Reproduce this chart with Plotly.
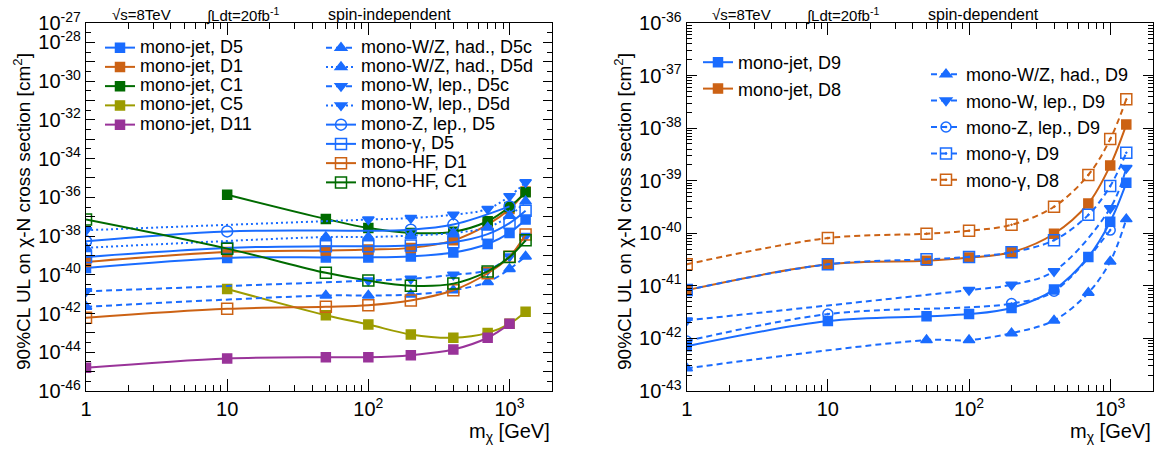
import plotly.graph_objects as go

# ---------------- data ----------------
mass_all = [1, 10, 50, 100, 200, 400, 700, 1000, 1300]
mass_no1 = [10, 50, 100, 200, 400, 700, 1000, 1300]
mass_d11 = [1, 10, 50, 100, 200, 400, 700, 1000]
mass_wzhad = [1, 50, 100, 200, 400, 700, 1000, 1300]
mass_wlep = [1, 100, 200, 400, 700, 1000, 1300]
mass_zlep = [1, 10, 200, 400, 1000]
mass_wlep_sd = [1, 100, 200, 400, 1000, 1300]

# spin-independent (cm^2)
si_jet_D5 = [2.24e-40, 7.4e-40, 7.9e-40, 7.9e-40, 8.9e-40, 1.41e-39, 3.9e-39, 1.45e-38, 7.1e-38]
si_jet_D1 = [4.6e-40, 1.51e-39, 1.78e-39, 2.0e-39, 2.45e-39, 6.0e-39, 3.9e-38, 2.5e-37, 2.0e-36]
si_jet_C1 = [1.35e-36, 7.6e-38, 2.6e-38, 1.45e-38, 1.66e-38, 5.8e-38, 3.2e-37, 1.8e-36]
si_jet_C5 = [1.86e-41, 8.1e-43, 2.7e-43, 8.3e-44, 5.6e-44, 1.0e-43, 2.95e-43, 1.23e-42]
si_jet_D11 = [1.58e-45, 4.8e-45, 5.6e-45, 5.6e-45, 7.1e-45, 1.38e-44, 5.6e-44, 2.95e-43]
si_wzhad_D5c = [2.24e-42, 8.5e-42, 8.5e-42, 9.5e-42, 1.58e-41, 4.3e-41, 2.0e-40, 8.9e-40]
si_wzhad_D5d = [2.45e-39, 8.9e-39, 8.9e-39, 1.05e-38, 1.45e-38, 2.8e-38, 1.12e-37, 6.2e-37]
si_wlep_D5c = [1.41e-41, 5.0e-41, 6.2e-41, 1.0e-40, 1.78e-40, 8.9e-40, 1.0e-38]
si_wlep_D5d = [2.0e-38, 7.1e-38, 8.5e-38, 1.26e-37, 2.5e-37, 1.15e-36, 6.0e-36]
si_zlep_D5 = [5.4e-39, 1.74e-38, 2.14e-38, 3.9e-38, 3.4e-37]
si_gam_D5 = [8.3e-40, 2.45e-39, 2.95e-39, 2.95e-39, 3.3e-39, 4.8e-39, 1.26e-38, 4.7e-38, 2.04e-37]
si_hf_D1 = [6.0e-43, 1.74e-42, 2.24e-42, 2.7e-42, 4.7e-42, 1.58e-41, 1.2e-40, 8.5e-40, 1.2e-38]
si_hf_C1 = [7.1e-38, 2.24e-39, 1.26e-40, 5.0e-41, 2.75e-41, 3.5e-41, 1.5e-40, 8.3e-40, 6.0e-39]

# spin-dependent (cm^2)
sd_jet_D9 = [7.1e-43, 2.14e-42, 2.63e-42, 2.9e-42, 3.8e-42, 8.5e-42, 3.55e-41, 1.66e-40, 9.1e-40]
sd_jet_D8 = [8.3e-42, 2.57e-41, 3.0e-41, 3.45e-41, 4.35e-41, 9.8e-41, 3.7e-40, 1.95e-39, 1.17e-38]
sd_wzhad_D9 = [2.7e-43, 9.3e-43, 9.3e-43, 1.26e-42, 2.2e-42, 7.4e-42, 2.9e-41, 1.86e-40]
sd_wlep_D9 = [2.2e-42, 8.3e-42, 1.05e-41, 1.9e-41, 3.0e-40, 1.74e-39]
sd_zlep_D9 = [8.9e-43, 2.9e-42, 4.6e-42, 7.9e-42, 1.15e-40]
sd_gam_D9 = [8.3e-42, 2.57e-41, 3.2e-41, 3.55e-41, 4.35e-41, 7.4e-41, 2.24e-40, 7.9e-40, 3.4e-39]
sd_gam_D8 = [2.57e-41, 8.1e-41, 9.8e-41, 1.12e-40, 1.45e-40, 3.2e-40, 1.29e-39, 6.2e-39, 3.55e-38]

# tick labels
x_tickvals = [1, 10, 100, 1000]
x_ticktext = ["1", "10", "10<sup>2</sup>", "10<sup>3</sup>"]
si_exps = list(range(-27, -47, -1))
sd_exps = list(range(-36, -44, -1))

# ---------------- style ----------------
BLUE = "#1A6CFF"
ORANGE = "#CC6214"
GREEN = "#006B00"
OLIVE = "#9C9C00"
PURPLE = "#993399"
FONT = "Liberation Sans, Arial, Helvetica, sans-serif"
DASH = "6px,4px"
DOT = "2px,3px"

W, H = 1159, 449
L_X0, L_X1 = 86, 552
R_X0, R_X1 = 686.7, 1152.7
Y0, Y1 = 23, 391

fig = go.Figure()


def add(x, y, name, color, symbol, size, dash, xa, ya, legend, big=False):
    label = f'<span style="font-size:18px">{name}</span>' if big else name
    fig.add_trace(go.Scatter(
        x=x, y=y, name=label, mode="lines+markers",
        line=dict(color=color, width=2, dash=dash, shape="spline", smoothing=1.0),
        marker=dict(color=color, symbol=symbol, size=size,
                    line=dict(color=color, width=1.5)),
        xaxis=xa, yaxis=ya, legend=legend, legendgroup=name,
    ))


# left panel
add(mass_all, si_jet_D5, "mono-jet, D5", BLUE, "square", 9, "solid", "x", "y", "legend", True)
add(mass_all, si_jet_D1, "mono-jet, D1", ORANGE, "square", 9, "solid", "x", "y", "legend", True)
add(mass_no1, si_jet_C1, "mono-jet, C1", GREEN, "square", 9, "solid", "x", "y", "legend", True)
add(mass_no1, si_jet_C5, "mono-jet, C5", OLIVE, "square", 9, "solid", "x", "y", "legend", True)
add(mass_d11, si_jet_D11, "mono-jet, D11", PURPLE, "square", 9, "solid", "x", "y", "legend", True)
add(mass_wzhad, si_wzhad_D5c, "mono-W/Z, had., D5c", BLUE, "triangle-up", 10, DASH, "x", "y", "legend2", True)
add(mass_wzhad, si_wzhad_D5d, "mono-W/Z, had., D5d", BLUE, "triangle-up", 10, DOT, "x", "y", "legend2", True)
add(mass_wlep, si_wlep_D5c, "mono-W, lep., D5c", BLUE, "triangle-down", 10, DASH, "x", "y", "legend2", True)
add(mass_wlep, si_wlep_D5d, "mono-W, lep., D5d", BLUE, "triangle-down", 10, DOT, "x", "y", "legend2", True)
add(mass_zlep, si_zlep_D5, "mono-Z, lep., D5", BLUE, "circle-open", 11, "solid", "x", "y", "legend2", True)
add(mass_all, si_gam_D5, "mono-γ, D5", BLUE, "square-open", 11, "solid", "x", "y", "legend2", True)
add(mass_all, si_hf_D1, "mono-HF, D1", ORANGE, "square-open", 11, "solid", "x", "y", "legend2", True)
add(mass_all, si_hf_C1, "mono-HF, C1", GREEN, "square-open", 11, "solid", "x", "y", "legend2", True)

# right panel
add(mass_all, sd_jet_D9, "mono-jet, D9", BLUE, "square", 9, "solid", "x2", "y2", "legend3")
add(mass_all, sd_jet_D8, "mono-jet, D8", ORANGE, "square", 9, "solid", "x2", "y2", "legend3")
add(mass_wzhad, sd_wzhad_D9, "mono-W/Z, had., D9", BLUE, "triangle-up", 10, DASH, "x2", "y2", "legend4")
add(mass_wlep_sd, sd_wlep_D9, "mono-W, lep., D9", BLUE, "triangle-down", 10, DASH, "x2", "y2", "legend4")
add(mass_zlep, sd_zlep_D9, "mono-Z, lep., D9", BLUE, "circle-open-dot", 10, DASH, "x2", "y2", "legend4")
add(mass_all, sd_gam_D9, "mono-γ, D9", BLUE, "square-open-dot", 11, DASH, "x2", "y2", "legend4")
add(mass_all, sd_gam_D8, "mono-γ, D8", ORANGE, "square-open-dot", 11, DASH, "x2", "y2", "legend4")


def px(x):
    return x / W


def py(y):
    return 1 - y / H


axis_common = dict(
    type="log", showgrid=False, zeroline=False, showline=True, linecolor="black",
    linewidth=1.3, mirror="allticks", ticks="inside", tickcolor="black",
    automargin=False,
    tickfont=dict(family=FONT, size=20, color="black"),
)

xaxis_common = dict(axis_common, range=[0, 3.301], tickmode="array",
                    tickvals=x_tickvals, ticktext=x_ticktext, ticklen=12, tickwidth=1,
                    minor=dict(dtick="D1", ticks="inside", ticklen=6, tickcolor="black"))

si_tickvals = [10.0 ** e for e in si_exps]
si_ticktext = [f"10<sup>{e}</sup>" if (e == -27 or e % 2 == 0) else "" for e in si_exps]
si_minor = [10.0 ** (e - 0.5) for e in si_exps[:-1]]

sd_tickvals = [10.0 ** e for e in sd_exps]
sd_ticktext = [f"10<sup>{e}</sup>" for e in sd_exps]

fig.update_layout(
    width=W, height=H, margin=dict(l=0, r=0, t=0, b=0, autoexpand=False),
    paper_bgcolor="white", plot_bgcolor="white",
    font=dict(family=FONT, color="black"),
    xaxis=dict(xaxis_common, domain=[px(L_X0), px(L_X1)], anchor="y"),
    yaxis=dict(axis_common, domain=[py(Y1), py(Y0)], anchor="x", range=[-46, -27],
               tickmode="array", tickvals=si_tickvals, ticktext=si_ticktext,
               ticklen=9, tickwidth=1,
               minor=dict(tickmode="array", tickvals=si_minor, ticks="inside",
                          ticklen=5, tickcolor="black")),
    xaxis2=dict(xaxis_common, domain=[px(R_X0), px(R_X1)], anchor="y2"),
    yaxis2=dict(axis_common, domain=[py(Y1), py(Y0)], anchor="x2", range=[-43, -36],
                tickmode="array", tickvals=sd_tickvals, ticktext=sd_ticktext,
                ticklen=10, tickwidth=1,
                minor=dict(dtick="D1", ticks="inside", ticklen=5, tickcolor="black")),
    showlegend=True,
)

legend_common = dict(bgcolor="rgba(0,0,0,0)", borderwidth=0, xanchor="left",
                     yanchor="top", traceorder="normal", itemwidth=30)
fig.update_layout(
    legend=dict(legend_common, x=px(100), y=py(33), font=dict(family=FONT, size=12.5)),
    legend2=dict(legend_common, x=px(321), y=py(33), font=dict(family=FONT, size=12.5)),
    legend3=dict(legend_common, x=px(698), y=py(44), font=dict(family=FONT, size=18)),
    legend4=dict(legend_common, x=px(926), y=py(56), font=dict(family=FONT, size=18)),
)

ann = []
def text(x, y, s, size, xanchor="left", angle=0, yanchor="middle"):
    ann.append(dict(x=px(x), y=py(y), xref="paper", yref="paper", text=s,
                    showarrow=False, xanchor=xanchor, yanchor=yanchor, textangle=angle,
                    font=dict(family=FONT, size=size, color="black")))

for x0, lab in [(0, "spin-independent"), (600, "spin-dependent")]:
    text(x0 + 110, 15, "√s=8TeV", 15)
    text(x0 + 204, 15, "∫Ldt=20fb<sup>-1</sup>", 15)
    text(x0 + 326, 15, lab, 16)

text(22, 212, "90%CL UL on χ-N cross section [cm<sup>2</sup>]", 19, "center", -90)
text(623, 212, "90%CL UL on χ-N cross section [cm<sup>2</sup>]", 19, "center", -90)
text(L_X1, 432, "m<sub>χ</sub> [GeV]", 20, "right")
text(R_X1, 432, "m<sub>χ</sub> [GeV]", 20, "right")
fig.update_layout(annotations=ann)

fig.write_html("out.html", config={"displayModeBar": False},
               post_script="document.body.style.margin='0px';")
